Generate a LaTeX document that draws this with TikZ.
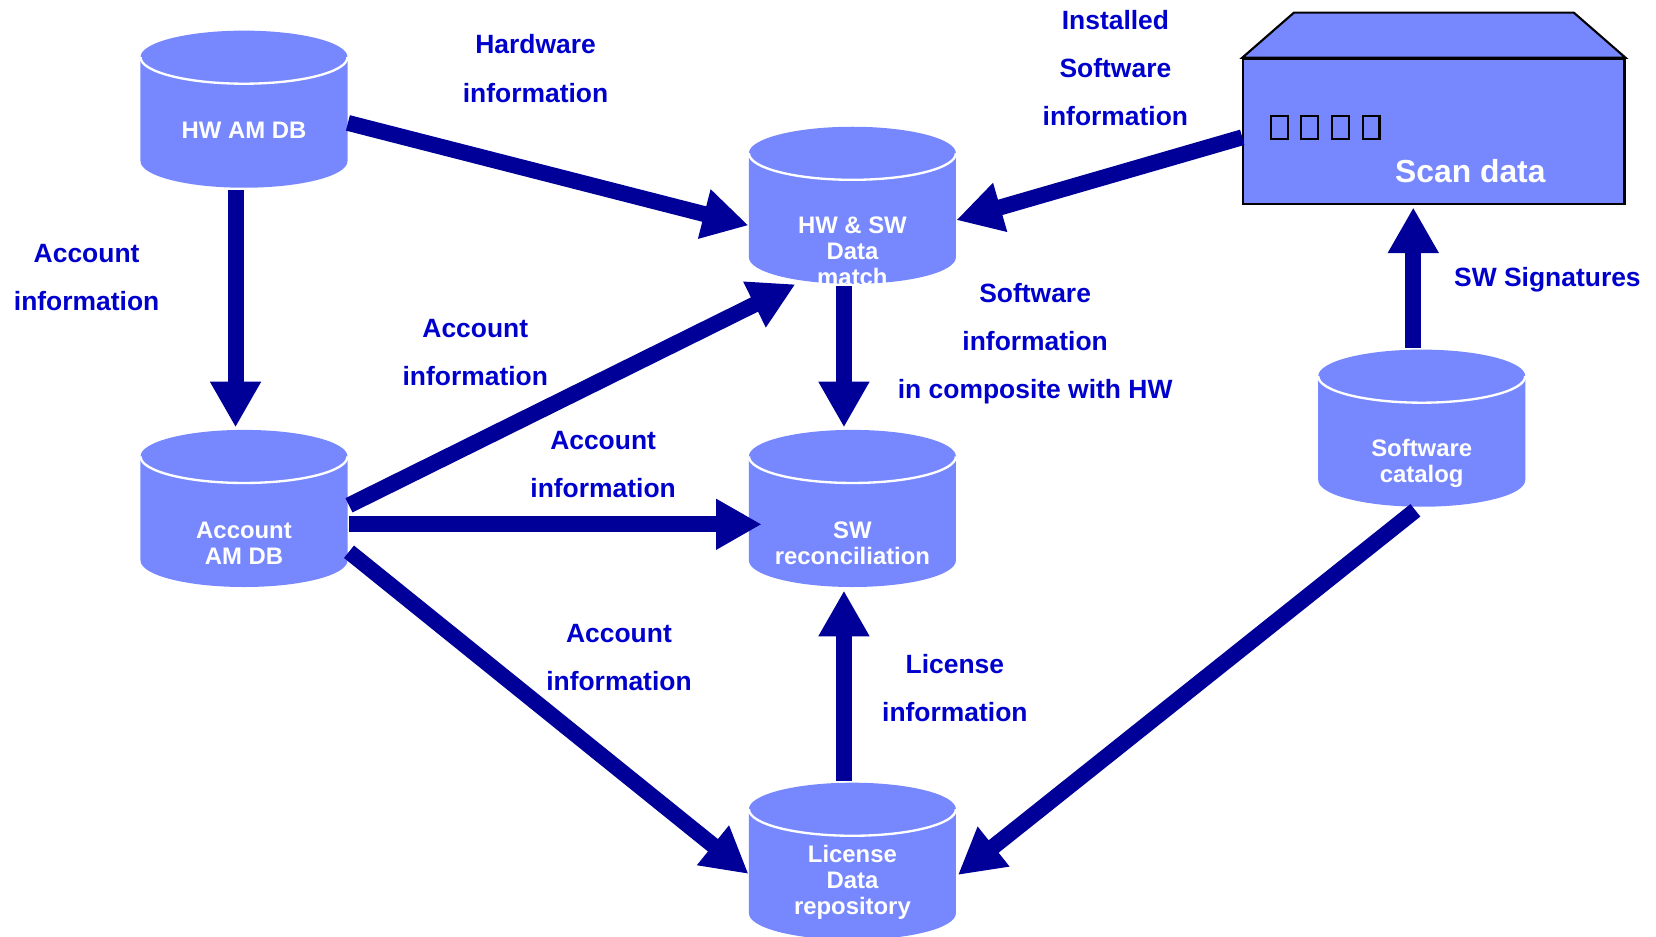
\documentclass[tikz,border=0pt]{standalone}
\usepackage{fontspec}
\setmainfont{Liberation Sans}
\usetikzlibrary{arrows.meta,calc}
\definecolor{cylblue}{RGB}{119,136,255}
\definecolor{arrblue}{RGB}{0,0,153}
\definecolor{lblblue}{RGB}{0,0,204}
\tikzset{
  cylnode/.style={minimum width=97.5pt,minimum height=74pt,inner sep=0pt,draw=none},
  cyltext/.style={text=white,align=center,inner sep=0pt,font=\fontsize{11.25}{12.25}\selectfont\bfseries},
  lbl/.style={text=lblblue,align=center,inner sep=0pt,font=\fontsize{12.45}{22.75}\selectfont\bfseries},
  flow/.style={draw=arrblue,line width=7.5pt,-{Triangle[width=22.5pt,length=21.5pt]}},
  scanbox/.style={minimum width=179.5pt,minimum height=68.5pt,inner sep=0pt,fill=cylblue,draw=black,line width=1pt},
}
\newcommand{\dbcyl}[3]{%
  \begin{scope}[shift={(#1,-#2)}]
  \fill[cylblue] (-48.75pt,-12.5pt) -- (-48.75pt,-61.5pt) arc[start angle=180,end angle=360,x radius=48.75pt,y radius=12.5pt] -- (48.75pt,-12.5pt) arc[start angle=0,end angle=180,x radius=48.75pt,y radius=12.5pt] -- cycle;
  \draw[white,line width=1.1pt] (-48.75pt,-12.5pt) arc[start angle=180,end angle=360,x radius=48.75pt,y radius=12.5pt];
  \end{scope}
  \node[cylnode] (#3) at ($(#1,-#2)+(0pt,-37pt)$) {};
}
\begin{document}
\begin{tikzpicture}[x=0.4975pt,y=0.4975pt]
\useasboundingbox (0,0) rectangle (1567.8,-886.4);
\clip (0,0) rectangle (1567.8,-886.4);
% cylinders
\dbcyl{231}{29}{hw}
\dbcyl{807}{120}{match}
\dbcyl{231}{407}{acc}
\dbcyl{807}{407}{recon}
\dbcyl{807}{741}{lic}
\dbcyl{1346}{331}{cat}
% cylinder texts
\node[cyltext] (thw) at (231,-123) {HW AM DB};
\node[cyltext] (tmatch) at (807,-238) {HW \& SW\\Data\\match};
\node[cyltext] (tacc) at (231,-514) {Account\\AM DB};
\node[cyltext] (trecon) at (807,-514) {SW\\reconciliation};
\node[cyltext] (tcat) at (1346,-438.5) {Software\\catalog};
\node[cyltext] (tlic) at (807,-835) {License\\Data\\repository};
% scan data box
\node[scanbox] (scan) at (1357.5,-124.5) {};
\filldraw[fill=cylblue,draw=black,line width=1pt,line join=miter] (scan.north west) -- (1225,-12) -- (1490,-12) -- (scan.north east) -- cycle;
\foreach \i in {0,1,2,3} \draw[black,line width=1pt] (1203+29*\i,-110) rectangle ++(16,-22);
\node[text=white,inner sep=0pt,font=\fontsize{15}{18}\selectfont\bfseries] (tscan) at (1392,-162) {Scan data};
% labels
\node[lbl] (l1) at (507,-65) {Hardware\\information};
\node[lbl] (l2) at (1056,-64.5) {Installed\\Software\\information};
\node[lbl] (l3) at (82,-262.5) {Account\\information};
\node[lbl] (l4) at (450,-333.5) {Account\\information};
\node[lbl] (l5) at (980,-325.5) {Software\\information\\in composite with HW};
\node[lbl] (l6) at (571,-439.5) {Account\\information};
\node[lbl] (l7) at (1465,-265) {SW Signatures};
\node[lbl] (l8) at (586,-622.5) {Account\\information};
\node[lbl] (l9) at (904,-651.5) {License\\information};
% arrows
\draw[flow] ($(hw.east)+(0,-13)$) -- ($(match.west)+(0,-19)$);
\draw[flow] ($(scan.west)+(0,-5.5)$) -- ($(match.east)+(0,-14)$);
\draw[flow] ($(hw.south)+(-8,-2)$) -- ($(acc.north)+(-8,2)$);
\draw[flow] ($(acc.east)+(1,3)$) -- ($(match.south)+(-54,0)$);
\draw[flow] ($(acc.east)+(1,-15)$) -- ($(recon.west)+(12.5,-15)$);
\draw[flow] ($(acc.east)+(1,-41)$) -- ($(lic.west)+(0,-12)$);
\draw[flow] ($(match.south)+(-8,-2)$) -- ($(recon.north)+(-8,2)$);
\draw[flow] ($(lic.north)+(-8,1)$) -- ($(recon.south)+(-8,-3)$);
\draw[flow] ($(cat.south)+(-6,-3)$) -- ($(lic.east)+(1.5,-13)$);
\draw[flow] ($(cat.north)+(-8,1)$) -- ($(scan.south)+(-19.5,-2)$);
\end{tikzpicture}
\end{document}
